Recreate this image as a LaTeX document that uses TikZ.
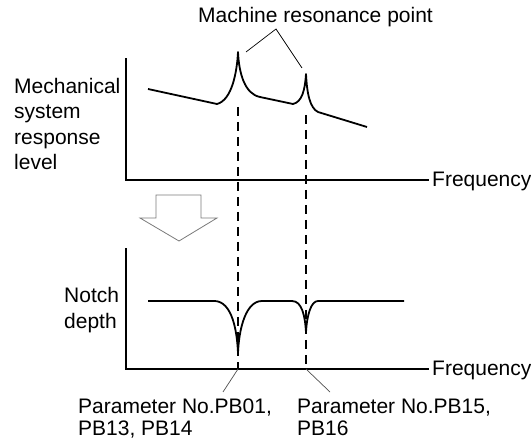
\documentclass[tikz,border=0pt]{standalone}
\usepackage{fontspec}
\setmainfont{Liberation Sans}
\usetikzlibrary{calc}
\definecolor{arrowgray}{HTML}{7A7A7A}
\definecolor{leadgray}{HTML}{505050}
\tikzset{
  axis/.style={line width=1.3pt, line cap=rect},
  curve/.style={line width=1.8pt, line join=round},
  guide/.style={line width=1.2pt, dash pattern=on 9pt off 6pt},
  leader/.style={line width=0.7pt, color=leadgray},
  txt/.style={inner sep=0pt, anchor=base west, font=\fontsize{21}{25.5}\selectfont},
  every node/.append style={align=left}
}

\begin{document}
\begin{tikzpicture}[x=1pt, y=-1pt]
\useasboundingbox (0,0) rectangle (531,441);

% upper chart: response level
\draw[axis] (126,59) -- (126,180) -- (428,180);
\draw[guide] (238,107) -- (238,369);
\draw[guide] (306,115) -- (306,369);
\coordinate (peakA) at (238,52);
\coordinate (peakB) at (306,74);
\draw[curve] (148,89) -- (217,104) .. controls (232,100) and (237,72) .. (peakA)
  .. controls (239,74) and (245,94) .. (260,97) -- (293,104)
  .. controls (302,102) and (305,90) .. (peakB)
  .. controls (307,94) and (310,108) .. (318,112) -- (367,127);

\node[txt] (title) at (198,23) {Machine resonance point};
\coordinate (apex) at (276,29);
\coordinate (tipA) at (246,52);
\coordinate (tipB) at (302,68);
\draw[line width=0.7pt] (tipA) -- (apex) -- (tipB);

\node[txt] (level) at (14,93.5) {\begin{tabular}[t]{@{}l@{}}Mechanical\\ system\\ response\\ level\end{tabular}};
\node[txt] (freqA) at (432,187) {Frequency};

% hollow arrow
\draw[arrowgray, line width=0.8pt] (156,195) -- (201,195) -- (201,218) -- (217,218)
  -- (179,241) -- (140,218) -- (156,218) -- cycle;

% lower chart: notch depth
\draw[axis] (126,249) -- (126,369) -- (428,369);
\coordinate (notchA) at (238,353);
\coordinate (notchB) at (306,332);
\draw[curve] (148,301) -- (215,301) .. controls (232,302) and (237,330) .. (notchA)
  .. controls (239,328) and (246,301) .. (262,301) -- (292,301)
  .. controls (302,301) and (305,316) .. (notchB)
  .. controls (307,315) and (311,301) .. (318,301) -- (404,301);

\node[txt] (depth) at (64,303) {\begin{tabular}[t]{@{}l@{}}Notch\\ depth\end{tabular}};
\node[txt] (freqB) at (432,375) {Frequency};

\coordinate (footA) at (238,369);
\coordinate (footB) at (306,369);
\draw[leader] (footA) -- (223,392);
\draw[leader] (footB) -- (330,392);

\node[txt, font=\fontsize{21}{22}\selectfont] (parA) at (78,413) {\begin{tabular}[t]{@{}l@{}}Parameter No.PB01,\\ PB13, PB14\end{tabular}};
\node[txt, font=\fontsize{21}{22}\selectfont] (parB) at (297,413) {\begin{tabular}[t]{@{}l@{}}Parameter No.PB15,\\ PB16\end{tabular}};
\end{tikzpicture}
\end{document}
